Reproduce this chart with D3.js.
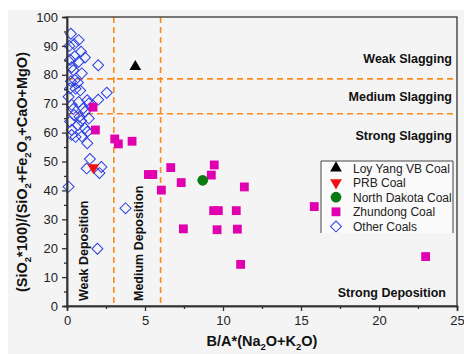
<!DOCTYPE html>
<html>
<head>
<meta charset="utf-8">
<script src="https://cdn.jsdelivr.net/npm/d3@7"></script>
<style>
  html, body { margin: 0; padding: 0; background: #ffffff; }
  svg { display: block; font-family: "Liberation Sans", Arial, sans-serif; }
</style>
</head>
<body>
<svg id="chart" width="464" height="354"></svg>
<script>
// Slagging / deposition classification of coals
const xTicks = [0, 5, 10, 15, 20, 25];
const yTicks = [0, 10, 20, 30, 40, 50, 60, 70, 80, 90, 100];
const xThresholds = [3, 6];        // deposition boundaries
const yThresholds = [78.6, 66.5];  // slagging boundaries

const loyYang = [[4.38, 82.8]];
const prb = [[1.69, 47.9]];
const northDakota = [[8.7, 43.5]];
const zhundong = [
  [1.67, 68.8], [1.82, 60.9], [3.06, 57.8], [3.29, 56.1], [4.17, 57.0],
  [5.22, 45.5], [5.5, 45.5], [6.65, 47.9], [6.05, 40.1], [7.32, 42.7],
  [7.46, 26.7], [9.44, 48.8], [9.25, 45.3], [9.4, 33.0], [9.7, 33.0],
  [9.62, 26.4], [10.85, 33.0], [10.92, 26.6], [11.37, 41.2], [11.13, 14.4],
  [15.85, 34.4], [22.99, 17.1]
];
const otherCoals = [
  [0.25, 94.2], [0.75, 92.0], [0.45, 90.6], [0.15, 90.0], [0.9, 88.0],
  [0.5, 86.4], [1.15, 86.0], [0.2, 85.2], [0.75, 84.5], [2.0, 83.3],
  [0.3, 82.6], [0.4, 81.6], [0.95, 80.5], [0.5, 78.2], [0.25, 77.8],
  [0.7, 77.3], [0.2, 75.3], [0.55, 75.2], [0.85, 74.6], [2.55, 73.8],
  [0.1, 72.4], [2.0, 71.4], [1.3, 71.2], [0.75, 70.6], [1.4, 70.1],
  [0.3, 69.6], [1.05, 68.4], [0.4, 68.2], [1.15, 67.2], [0.45, 66.1],
  [0.8, 65.5], [1.4, 64.9], [0.2, 63.8], [0.9, 64.1], [0.7, 62.6],
  [1.15, 61.5], [0.3, 60.9], [1.3, 60.3], [0.3, 59.2], [0.95, 58.7],
  [0.55, 58.5], [1.3, 56.3], [1.47, 50.9], [1.26, 47.6], [2.2, 48.1],
  [2.08, 46.0], [0.1, 41.3], [3.75, 33.8], [1.95, 19.8]
];
const legendLabels = ["Loy Yang VB Coal", "PRB Coal", "North Dakota Coal", "Zhundong Coal", "Other Coals"];

const svg = d3.select("#chart");
const W = 464, H = 354;
const plot = { left: 67, right: 457, top: 17, bottom: 306 };

// page background
svg.append("rect").attr("x", 8).attr("y", 10).attr("width", W - 8).attr("height", H - 10)
  .attr("fill", "#f4f4f4");

const x = d3.scaleLinear().domain([0, 25]).range([plot.left, plot.right]);
const y = d3.scaleLinear().domain([0, 100]).range([plot.bottom, plot.top]);

const orange = "#ff8a1c";
const g = svg.append("g");

// threshold lines
g.selectAll(".vthr").data(xThresholds).join("line")
  .attr("x1", d => x(d)).attr("x2", d => x(d))
  .attr("y1", plot.top).attr("y2", plot.bottom)
  .attr("stroke", orange).attr("stroke-width", 1.6).attr("stroke-dasharray", "6,4");
g.selectAll(".hthr").data(yThresholds).join("line")
  .attr("y1", d => y(d)).attr("y2", d => y(d))
  .attr("x1", plot.left).attr("x2", plot.right)
  .attr("stroke", orange).attr("stroke-width", 1.6).attr("stroke-dasharray", "6,4");

// region labels
function label(txt, px, py, anchor, rot) {
  const t = g.append("text").text(txt).attr("text-anchor", anchor)
    .attr("font-weight", "bold").attr("font-size", "12.5px").attr("fill", "#111");
  if (rot) t.attr("transform", `translate(${px},${py}) rotate(-90)`);
  else t.attr("x", px).attr("y", py);
}
label("Weak Slagging", 452, 63, "end");
label("Medium Slagging", 452, 101, "end");
label("Strong Slagging", 452, 140, "end");
label("Strong Deposition", 446, 297, "end");
label("Weak Deposition", 88, 301, "start", true);
label("Medium Deposition", 143, 301, "start", true);

// markers
const sym = (type, size) => d3.symbol().type(type).size(size)();
g.selectAll(".other").data(otherCoals).join("path")
  .attr("d", sym(d3.symbolSquare, 60))
  .attr("transform", d => `translate(${x(d[0])},${y(d[1])}) rotate(45)`)
  .attr("fill", "none").attr("stroke", "#2a3ee6").attr("stroke-width", 1);
g.selectAll(".zd").data(zhundong).join("path")
  .attr("d", sym(d3.symbolSquare, 78))
  .attr("transform", d => `translate(${x(d[0])},${y(d[1])})`)
  .attr("fill", "#e000b0");
g.selectAll(".nd").data(northDakota).join("path")
  .attr("d", sym(d3.symbolCircle, 90))
  .attr("transform", d => `translate(${x(d[0])},${y(d[1])})`)
  .attr("fill", "#0c7a12");
g.selectAll(".prb").data(prb).join("path")
  .attr("d", sym(d3.symbolTriangle, 60))
  .attr("transform", d => `translate(${x(d[0])},${y(d[1])}) rotate(180)`)
  .attr("fill", "#ee1111");
g.selectAll(".ly").data(loyYang).join("path")
  .attr("d", sym(d3.symbolTriangle, 60))
  .attr("transform", d => `translate(${x(d[0])},${y(d[1])})`)
  .attr("fill", "#000");

// frame
svg.append("rect").attr("x", plot.left).attr("y", plot.top)
  .attr("width", plot.right - plot.left).attr("height", plot.bottom - plot.top)
  .attr("fill", "none").attr("stroke", "#333").attr("stroke-width", 1.3);

// axes
const xAxis = svg.append("g").attr("transform", `translate(0,${plot.bottom})`)
  .call(d3.axisBottom(x).tickValues(xTicks).tickSize(5).tickPadding(5));
const xMinor = svg.append("g").attr("transform", `translate(0,${plot.bottom})`)
  .call(d3.axisBottom(x).tickValues(d3.range(2.5, 25, 5)).tickSize(3).tickFormat(""));
const yAxis = svg.append("g").attr("transform", `translate(${plot.left},0)`)
  .call(d3.axisLeft(y).tickValues(yTicks).tickSize(5).tickPadding(4));
const yMinor = svg.append("g").attr("transform", `translate(${plot.left},0)`)
  .call(d3.axisLeft(y).tickValues(d3.range(5, 100, 10)).tickSize(3).tickFormat(""));
xMinor.selectAll("text").remove();
yMinor.selectAll("text").remove();
[xAxis, xMinor, yAxis, yMinor].forEach(a => {
  a.select(".domain").attr("stroke", "#333").attr("stroke-width", 1.5);
  a.selectAll(".tick line").attr("stroke", "#333").attr("stroke-width", 1.3);
  a.selectAll("text").attr("font-size", "13px").attr("fill", "#222")
    .attr("font-family", "'Liberation Sans', Arial, sans-serif");
});

// axis titles with subscripts: a subscript shifts down, the following run shifts back up
function addRich(t, parts) {
  let lowered = false;
  parts.forEach(p => {
    const ts = t.append("tspan").text(p.s);
    if (p.sub) { ts.attr("font-size", "9.5px").attr("dy", 4); lowered = true; }
    else if (lowered) { ts.attr("dy", -4); lowered = false; }
  });
}
const xt = svg.append("text").attr("x", 262).attr("y", 346).attr("text-anchor", "middle")
  .attr("font-weight", "bold").attr("font-size", "14.5px").attr("fill", "#111");
addRich(xt, [{ s: "B/A*(Na" }, { s: "2", sub: true }, { s: "O+K" }, { s: "2", sub: true }, { s: "O)" }]);

const yt = svg.append("text").attr("transform", "translate(27,172) rotate(-90)")
  .attr("text-anchor", "middle").attr("font-weight", "bold").attr("font-size", "14.5px").attr("fill", "#111");
addRich(yt, [
  { s: "(SiO" }, { s: "2", sub: true }, { s: "*100)/(SiO" }, { s: "2", sub: true },
  { s: "+Fe" }, { s: "2", sub: true }, { s: "O" }, { s: "3", sub: true }, { s: "+CaO+MgO)" }
]);

// legend
const lg = svg.append("g");
const lx = 321, ly = 161, lw = 132, lh = 72;
lg.append("rect").attr("x", lx).attr("y", ly).attr("width", lw).attr("height", lh)
  .attr("fill", "#fafafa").attr("stroke", "none");
lg.append("path").attr("d", `M${lx},${ly + lh}V${ly}H${lx + lw}V${ly + lh}`)
  .attr("fill", "none").attr("stroke", "#444").attr("stroke-width", 1);
const legendSyms = [
  { d: sym(d3.symbolTriangle, 60), rot: 0, fill: "#000", stroke: "none" },
  { d: sym(d3.symbolTriangle, 60), rot: 180, fill: "#ee1111", stroke: "none" },
  { d: sym(d3.symbolCircle, 90), rot: 0, fill: "#0c7a12", stroke: "none" },
  { d: sym(d3.symbolSquare, 78), rot: 0, fill: "#e000b0", stroke: "none" },
  { d: sym(d3.symbolSquare, 60), rot: 45, fill: "none", stroke: "#2a3ee6" }
];
legendLabels.forEach((name, i) => {
  const cy = 168 + i * 14.6;
  const s = legendSyms[i];
  lg.append("path").attr("d", s.d).attr("transform", `translate(336,${cy}) rotate(${s.rot})`)
    .attr("fill", s.fill).attr("stroke", s.stroke).attr("stroke-width", 1);
  lg.append("text").attr("x", 353).attr("y", cy + 4.5).text(name)
    .attr("font-size", "12px").attr("fill", "#222");
});
</script>
</body>
</html>
